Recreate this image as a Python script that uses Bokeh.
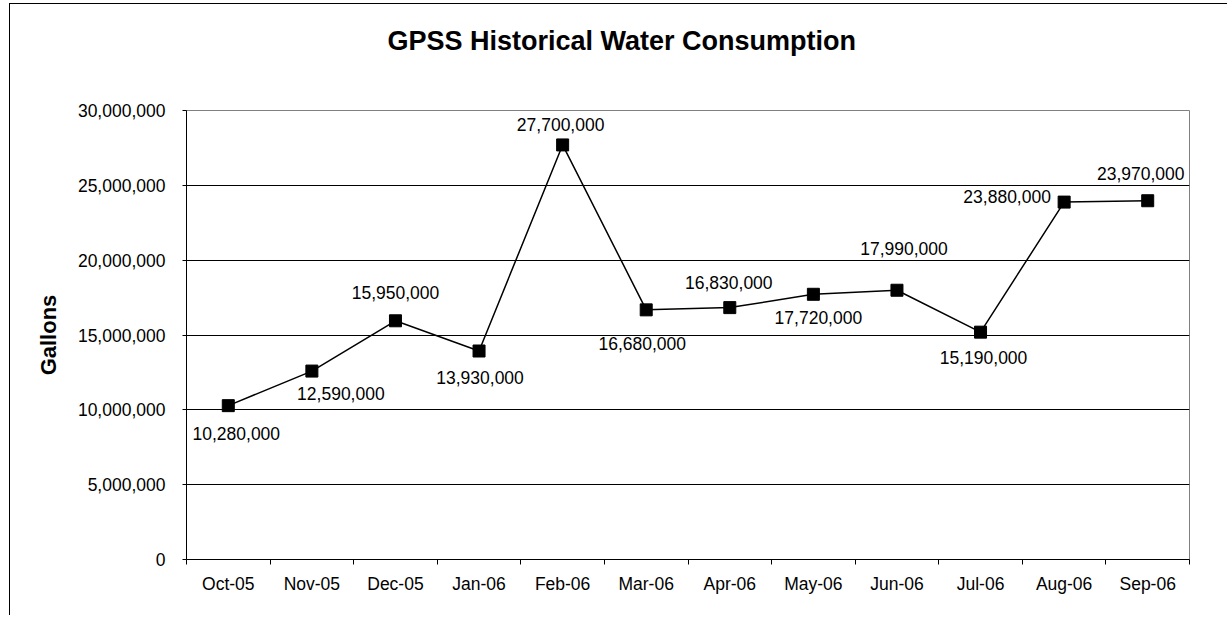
from bokeh.plotting import figure
from bokeh.models import (Range1d, FixedTicker, NumeralTickFormatter, Title,
                          ColumnDataSource, LinearAxis, Grid)
from bokeh.core.properties import value
from bokeh.embed import file_html
from bokeh.resources import INLINE

# ---- data ----
months = ["Oct-05", "Nov-05", "Dec-05", "Jan-06", "Feb-06", "Mar-06",
          "Apr-06", "May-06", "Jun-06", "Jul-06", "Aug-06", "Sep-06"]
gallons = [10280000, 12590000, 15950000, 13930000, 27700000, 16680000,
           16830000, 17720000, 17990000, 15190000, 23880000, 23970000]
y_ticks = [0, 5000000, 10000000, 15000000, 20000000, 25000000, 30000000]
title_text = "GPSS Historical Water Consumption"
y_title = "Gallons"

# label placement (pixel offsets from each point)
label_dx = [8, 29, 0, 1, -2, -4, -1, 5, 7, 3, -57, -7]
label_dy = [28, 22, -28, 26, -20, 34, -25, 23, -42, 25, -6, -27]

FONT = "Liberation Sans"
n = len(months)
xs = [i + 0.5 for i in range(n)]

p = figure(width=1218, height=612, output_backend="svg", toolbar_location=None,
           x_range=Range1d(0, n), y_range=Range1d(0, 30000000),
           min_border_left=176, min_border_top=106, min_border_right=39,
           min_border_bottom=57, x_axis_type=None, y_axis_type=None)
p.margin = (3, 0, 0, 9)
p.styles = {"border-left": "1px solid black", "border-top": "1px solid black"}
p.background_fill_color = "white"
p.border_fill_color = "white"
p.outline_line_color = "#808080"
p.outline_line_width = 1

# x axis
xaxis = LinearAxis(ticker=FixedTicker(ticks=xs, minor_ticks=list(range(n + 1))))
xaxis.major_label_overrides = {x: m for x, m in zip(xs, months)}
xaxis.major_tick_out = 0
xaxis.major_tick_in = 0
xaxis.minor_tick_out = 5
xaxis.minor_tick_in = 0
xaxis.minor_tick_line_color = "black"
xaxis.axis_line_color = "black"
xaxis.major_label_standoff = 9
xaxis.major_label_text_font = FONT
xaxis.major_label_text_font_size = "17.5px"
xaxis.major_label_text_color = "black"
p.add_layout(xaxis, "below")

# y axis
yaxis = LinearAxis(ticker=FixedTicker(ticks=y_ticks),
                   formatter=NumeralTickFormatter(format="0,0"))
yaxis.major_tick_out = 4
yaxis.major_tick_in = 0
yaxis.minor_tick_out = 0
yaxis.minor_tick_in = 0
yaxis.axis_line_color = "black"
yaxis.major_tick_line_color = "black"
yaxis.major_label_standoff = 17
yaxis.major_label_text_font = FONT
yaxis.major_label_text_font_size = "17.5px"
yaxis.major_label_text_color = "black"
yaxis.axis_label = y_title
yaxis.axis_label_text_font = FONT
yaxis.axis_label_text_font_style = "bold"
yaxis.axis_label_text_font_size = "22px"
yaxis.axis_label_text_color = "black"
yaxis.axis_label_standoff = 14
p.add_layout(yaxis, "left")

# blank spacer panel between the frame and the chart title
p.add_layout(Title(text=" ", text_font_size="1px", standoff=51), "above")

# chart title
p.add_layout(Title(text=title_text, text_font=FONT, text_font_style="bold",
                   text_font_size="27px", text_color="black", align="left",
                   offset=201, vertical_align="middle", standoff=0), "above")

p.xgrid.visible = False
p.ygrid.visible = False
g = Grid(dimension=1, ticker=FixedTicker(ticks=y_ticks[1:-1]),
         grid_line_color="black", grid_line_width=1)
p.add_layout(g)

src = ColumnDataSource(dict(x=xs, y=gallons,
                            lbl=[f"{v:,}" for v in gallons],
                            dx=label_dx, dy=label_dy))
p.line("x", "y", source=src, line_color="black", line_width=1.5)
p.scatter("x", "y", source=src, marker="square", size=12,
          fill_color="black", line_color="black")
p.text("x", "y", text="lbl", source=src, x_offset="dx", y_offset="dy",
       text_align="center", text_baseline="middle",
       text_font=value(FONT), text_font_size="17.5px", text_color="black")

open("out.html", "w").write(file_html(p, INLINE))
